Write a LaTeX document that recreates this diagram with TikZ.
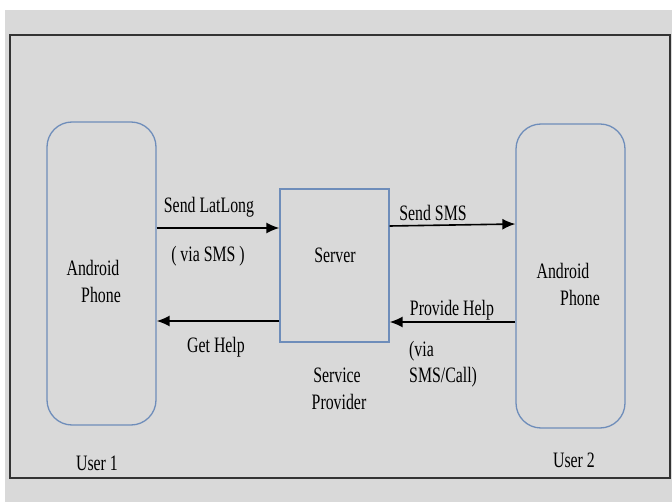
\documentclass[tikz,border=0pt]{standalone}
\usepackage{fontspec}
\setmainfont{Liberation Serif}[FakeStretch=0.72]
\usetikzlibrary{arrows.meta}
\definecolor{bg}{HTML}{D9D9D9}
\definecolor{edge}{HTML}{6E8DBA}
\begin{document}
\begin{tikzpicture}[x=1pt,y=-1pt,
 lbl/.style={font=\fontsize{22}{24}\selectfont, text=black, inner sep=0pt},
 dev/.style={draw=edge, line width=1.3pt, rounded corners=25pt},
 srvbox/.style={draw=edge, line width=1.3pt},
 arr/.style={line width=1.6pt, -{Latex[length=13pt,width=11pt]}}]
\useasboundingbox (0,0) rectangle (672,502);
\fill[white] (0,0) rectangle (672,502);
\fill[bg] (5,10) rectangle (672,502);
\draw[line width=1.5pt, black!80] (10,35) rectangle (670,478);
\node[dev, minimum width=109pt, minimum height=303pt] (p1) at (101.5,273.5) {};
\node[dev, minimum width=109pt, minimum height=304pt] (p2) at (570.5,276) {};
\node[srvbox, minimum width=109pt, minimum height=153pt] (srv) at (334.5,265.5) {};
\draw[arr] (p1.east |- {(0,228)}) -- (srv.west |- {(0,228)});
\draw[arr] (srv.west |- {(0,321)}) -- (p1.east |- {(0,321)});
\draw[arr] (srv.east |- {(0,226)}) -- (p2.west |- {(0,224)});
\draw[arr] (p2.west |- {(0,322)}) -- (srv.east |- {(0,322)});
\node[lbl] (t1) at (209,207) {Send LatLong};
\node[lbl] (t2) at (208,256) {( via SMS )};
\node[lbl] (t3) at (216,347) {Get Help};
\node[lbl] (t4) at (335,255) {Server};
\node[lbl] (t5) at (337,375) {Service};
\node[lbl] (t6) at (339,402) {Provider};
\node[lbl] (t7) at (433,213) {Send SMS};
\node[lbl] (t8) at (452,310) {Provide Help};
\node[lbl, anchor=west] (t9) at (409,351) {(via};
\node[lbl, anchor=west] (t10) at (409,377) {SMS/Call)};
\node[lbl] (a1) at (93,268) {Android};
\node[lbl] (a2) at (101,295) {Phone};
\node[lbl] (a3) at (563,271) {Android};
\node[lbl] (a4) at (580,298) {Phone};
\node[lbl] (u1) at (97,463) {User 1};
\node[lbl] (u2) at (574,460) {User 2};
\end{tikzpicture}
\end{document}
